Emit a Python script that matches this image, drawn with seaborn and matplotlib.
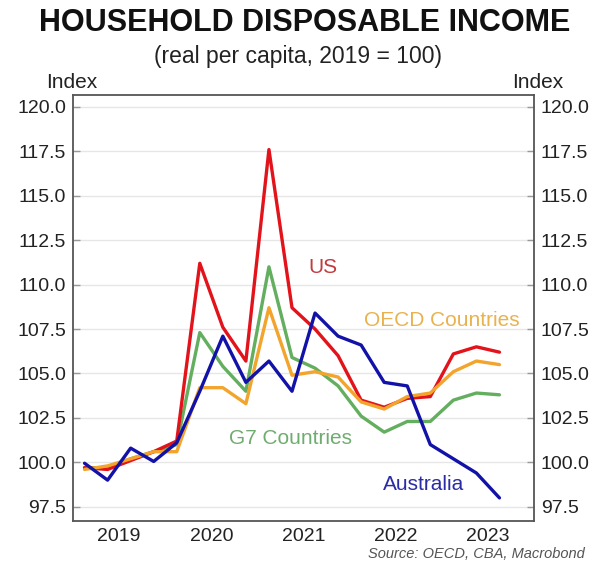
import numpy as np
import pandas as pd
import matplotlib
matplotlib.use("Agg")
import matplotlib.pyplot as plt
import seaborn as sns

# ---- data (quarterly, 2019Q1 .. 2023Q3, index 2019 = 100) ----
quarters = ["2019Q1", "2019Q2", "2019Q3", "2019Q4",
            "2020Q1", "2020Q2", "2020Q3", "2020Q4",
            "2021Q1", "2021Q2", "2021Q3", "2021Q4",
            "2022Q1", "2022Q2", "2022Q3", "2022Q4",
            "2023Q1", "2023Q2", "2023Q3"]
us = [99.7, 99.6, 100.1, 100.6, 101.2, 111.2, 107.6, 105.7, 117.6, 108.7,
      107.5, 106.0, 103.5, 103.1, 103.6, 103.7, 106.1, 106.5, 106.2]
oecd = [99.6, 99.8, 100.2, 100.6, 100.6, 104.2, 104.2, 103.3, 108.7, 104.9,
        105.1, 104.8, 103.4, 103.0, 103.7, 103.9, 105.1, 105.7, 105.5]
g7 = [99.7, 99.7, 100.2, 100.6, 101.0, 107.3, 105.4, 104.0, 111.0, 105.9,
      105.3, 104.3, 102.6, 101.7, 102.3, 102.3, 103.5, 103.9, 103.8]
australia = [99.95, 99.0, 100.8, 100.05, 101.1, 104.0, 107.1, 104.5, 105.7, 104.0,
             108.4, 107.1, 106.6, 104.5, 104.3, 101.0, 100.2, 99.4, 98.0]

series_names = ["G7 Countries", "US", "OECD Countries", "Australia"]
series_values = [g7, us, oecd, australia]
colors = {"US": "#e3131b", "OECD Countries": "#f2a42c",
          "G7 Countries": "#63ae5f", "Australia": "#1212a8"}
label_colors = {"US": "#c23a3d", "OECD Countries": "#e9b24f",
                "G7 Countries": "#6fac6f", "Australia": "#2b2ba6"}
year_labels = ["2019", "2020", "2021", "2022", "2023"]
y_ticks = [97.5, 100.0, 102.5, 105.0, 107.5, 110.0, 112.5, 115.0, 117.5, 120.0]

# decimal-year position at mid-quarter
def qpos(q):
    y, n = int(q[:4]), int(q[-1])
    return y + (n - 0.5) / 4.0

rows = []
for name, vals in zip(series_names, series_values):
    for q, v in zip(quarters, vals):
        rows.append({"date": qpos(q), "value": v, "series": name})
df = pd.DataFrame(rows)

sns.set_theme(style="white")
plt.rcParams["font.family"] = ["Liberation Sans", "DejaVu Sans"]

fig = plt.figure(figsize=(5.97, 5.63), dpi=100)
ax = fig.add_axes([0.1223, 0.0746, 0.7722, 0.7567])

sns.lineplot(data=df, x="date", y="value", hue="series", hue_order=series_names,
             palette=colors, linewidth=2.4, ax=ax, legend=False)

ax.set_xlim(2019, 2024)
ax.set_ylim(96.7, 120.67)
ax.set_yticks(y_ticks)
ax.set_yticklabels([f"{t:.1f}" for t in y_ticks])
ax.yaxis.grid(True, color="#e6e6e6", linewidth=1.0)
ax.set_axisbelow(True)

# year boundary ticks, labels at mid-year
ax.set_xticks([2020, 2021, 2022, 2023])
ax.set_xticklabels([])
ax.set_xticks([int(y) + 0.5 for y in year_labels], minor=True)
ax.set_xticklabels(year_labels, minor=True)
ax.tick_params(axis="x", which="major", direction="in", length=5, width=1, color="#555555")
ax.tick_params(axis="x", which="minor", length=0, labelsize=14, pad=5, labelcolor="#222222")
ax.tick_params(axis="y", which="major", direction="in", length=5, width=1, color="#999999",
               left=True, right=True, labelleft=True, labelright=True,
               labelsize=14, labelcolor="#222222", pad=5)

ax.set_xlabel("")
ax.set_ylabel("")
for s in ax.spines.values():
    s.set_visible(True)
    s.set_color("#555555")
    s.set_linewidth(1.3)

# series labels
ax.text(2021.71, 110.95, "US", color=label_colors["US"], fontsize=15,
        ha="center", va="center")
ax.text(2023.0, 108.0, "OECD Countries", color=label_colors["OECD Countries"],
        fontsize=15, ha="center", va="center")
ax.text(2021.36, 101.35, "G7 Countries", color=label_colors["G7 Countries"],
        fontsize=15, ha="center", va="center")
ax.text(2022.80, 98.76, "Australia", color=label_colors["Australia"],
        fontsize=15, ha="center", va="center")

# titles and annotations
fig.text(0.511, 0.960, "HOUSEHOLD DISPOSABLE INCOME", ha="center", va="center",
         fontsize=22, fontweight="bold", color="#111111")
fig.text(0.499, 0.899, "(real per capita, 2019 = 100)", ha="center", va="center",
         fontsize=16.5, color="#222222")
fig.text(0.121, 0.853, "Index", ha="center", va="center", fontsize=15, color="#222222")
fig.text(0.901, 0.853, "Index", ha="center", va="center", fontsize=15, color="#222222")
fig.text(0.98, 0.016, "Source: OECD, CBA, Macrobond", ha="right", va="center",
         fontsize=10.5, style="italic", color="#555555")

fig.savefig("out.png", dpi=100)
